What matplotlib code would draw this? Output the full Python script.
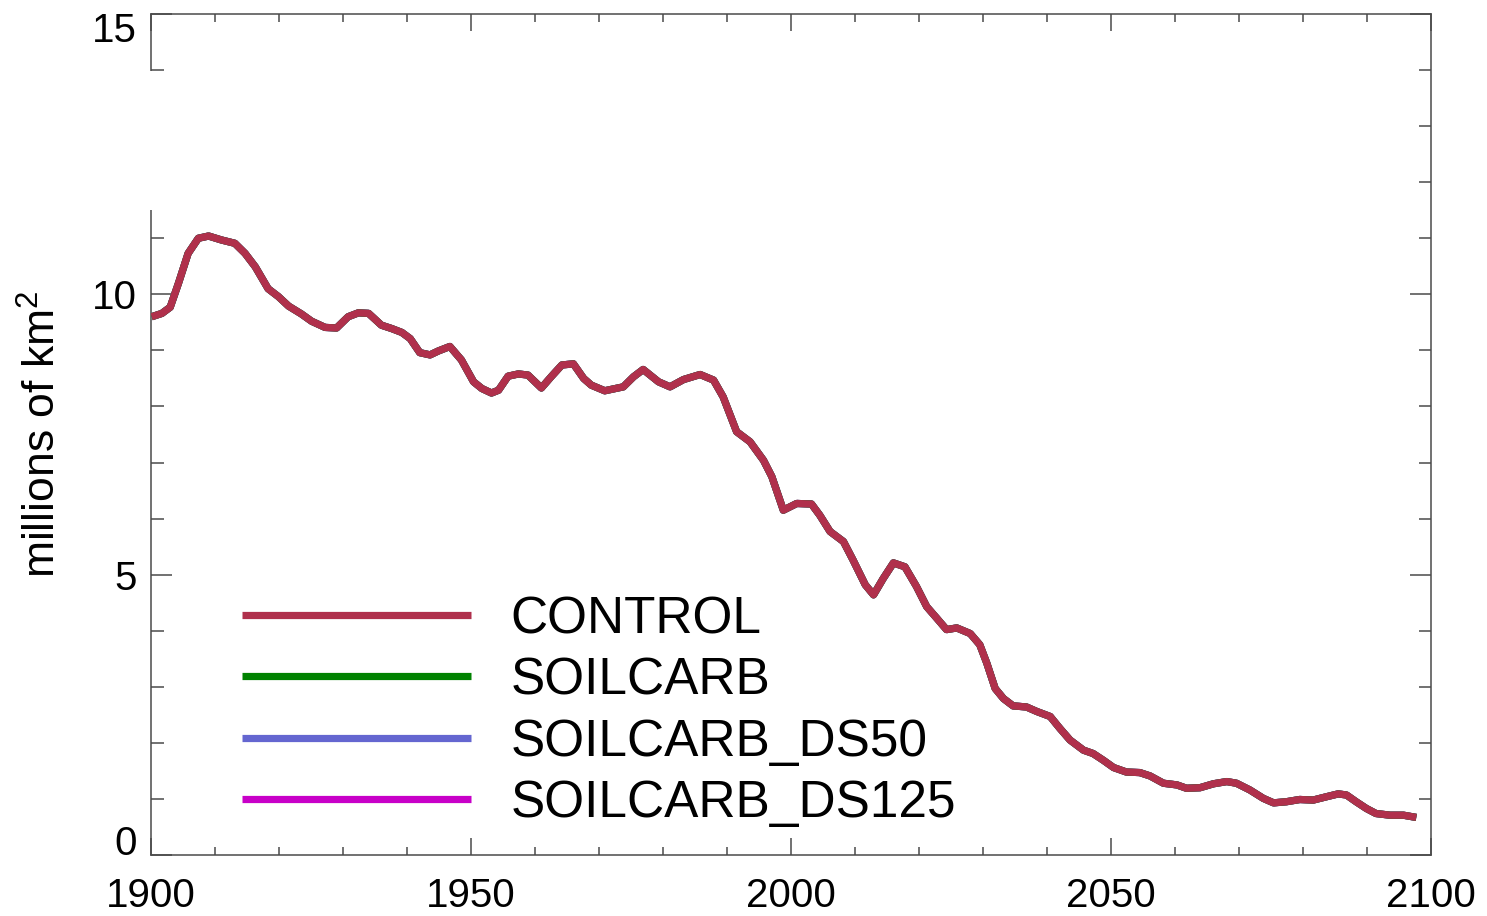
import matplotlib
matplotlib.use("Agg")
import matplotlib.pyplot as plt
import matplotlib.transforms as mtransforms
from matplotlib.patches import Rectangle
from matplotlib.ticker import MultipleLocator

plt.rcParams['font.family'] = ['Liberation Sans', 'DejaVu Sans']
plt.rcParams['mathtext.default'] = 'regular'

# values (millions of km^2)
years = [1900.1, 1901.7, 1903.0, 1904.3, 1905.8, 1907.4, 1909.0, 1911.0, 1913.1, 1914.7,
         1916.3, 1918.3, 1919.9, 1921.5, 1923.5, 1925.1, 1927.2, 1929.0, 1930.8, 1932.4,
         1934.0, 1936.0, 1937.6, 1939.2, 1940.5, 1942.0, 1943.6, 1944.9, 1946.7, 1948.5,
         1950.4, 1951.7, 1953.2, 1954.3, 1955.8, 1957.4, 1958.9, 1961.0, 1962.6, 1964.2,
         1966.0, 1967.6, 1968.8, 1970.9, 1973.8, 1975.4, 1976.9, 1979.3, 1981.1, 1983.2,
         1985.8, 1987.9, 1989.4, 1991.5, 1993.6, 1995.7, 1997.0, 1998.8, 2000.9, 2003.2,
         2004.5, 2006.1, 2008.2, 2009.7, 2011.6, 2012.9, 2014.4, 2016.0, 2017.8, 2019.6,
         2021.2, 2022.8, 2024.3, 2025.9, 2028.0, 2029.5, 2030.6, 2031.9, 2033.2, 2034.7,
         2036.8, 2038.4, 2040.5, 2042.0, 2043.6, 2045.7, 2047.2, 2048.8, 2050.4, 2052.4,
         2054.5, 2056.1, 2058.2, 2060.3, 2061.8, 2063.9, 2066.0, 2068.1, 2069.6, 2071.7,
         2073.8, 2075.4, 2077.4, 2079.5, 2081.6, 2083.7, 2085.5, 2086.8, 2088.3, 2089.9,
         2091.4, 2093.6, 2095.7, 2097.7]
control = [9.60, 9.66, 9.77, 10.20, 10.73, 11.00, 11.04, 10.97, 10.91, 10.73,
           10.49, 10.10, 9.96, 9.79, 9.65, 9.52, 9.41, 9.40, 9.60, 9.67,
           9.66, 9.45, 9.39, 9.32, 9.21, 8.96, 8.92, 8.99, 9.07, 8.83,
           8.44, 8.32, 8.24, 8.29, 8.54, 8.58, 8.56, 8.33, 8.54, 8.74,
           8.76, 8.50, 8.38, 8.28, 8.35, 8.53, 8.66, 8.44, 8.35, 8.48,
           8.57, 8.47, 8.17, 7.55, 7.37, 7.04, 6.75, 6.15, 6.27, 6.26,
           6.06, 5.77, 5.59, 5.26, 4.82, 4.64, 4.93, 5.21, 5.14, 4.79,
           4.43, 4.22, 4.02, 4.05, 3.95, 3.75, 3.42, 2.97, 2.79, 2.66,
           2.64, 2.56, 2.47, 2.26, 2.05, 1.87, 1.81, 1.69, 1.56, 1.48,
           1.47, 1.41, 1.28, 1.25, 1.19, 1.20, 1.27, 1.31, 1.28, 1.16,
           1.01, 0.93, 0.95, 0.99, 0.98, 1.04, 1.09, 1.07, 0.95, 0.83,
           0.74, 0.71, 0.71, 0.67]
# the other runs lie exactly under CONTROL in the picture
soilcarb = control
soilcarb_ds50 = control
soilcarb_ds125 = control

labels = ['CONTROL', 'SOILCARB', 'SOILCARB_DS50', 'SOILCARB_DS125']
colors = ['#B0304C', '#008200', '#6466D0', '#C800C8']

fig = plt.figure(figsize=(14.87, 9.16), dpi=100)
ax = fig.add_axes([151 / 1487, 1 - 855 / 916, 1280 / 1487, 841 / 916])

series = [control, soilcarb, soilcarb_ds50, soilcarb_ds125]
handles = []
for vals, lab, col, z in zip(series, labels, colors, [5, 4, 3, 2]):
    h, = ax.plot(years, vals, color=col, lw=5.2, label=lab, zorder=z,
                 solid_capstyle='butt', solid_joinstyle='round')
    handles.append(h)

ax.set_xlim(1900, 2100)
ax.set_ylim(0, 15)
ax.xaxis.set_major_locator(MultipleLocator(50))
ax.xaxis.set_minor_locator(MultipleLocator(10))
ax.yaxis.set_major_locator(MultipleLocator(5))
ax.yaxis.set_minor_locator(MultipleLocator(1))

for s in ax.spines.values():
    s.set_color('#4a4a4a')
    s.set_linewidth(1.1)

ax.tick_params(axis='both', which='both', direction='in', top=True, right=True,
               color='#4a4a4a', width=1.1, labelsize=29)
ax.tick_params(axis='x', which='major', length=12, pad=16)
ax.tick_params(axis='x', which='minor', length=6)
ax.tick_params(axis='y', which='major', length=15, pad=10)
ax.tick_params(axis='y', which='minor', length=9)

ax.set_ylabel('millions of km$^2$', fontsize=32, labelpad=20)

# gap in the left axis line
trans = mtransforms.blended_transform_factory(ax.transAxes, ax.transData)
ax.add_patch(Rectangle((-0.006, 11.5), 0.02, 2.48, transform=trans,
                       facecolor='white', edgecolor='none', clip_on=False, zorder=10))

ax.legend(handles=handles, loc='upper left', bbox_to_anchor=(91 / 1280, 1 - 581 / 841),
          frameon=False, fontsize=37, handlelength=4.45, handletextpad=0.78,
          labelspacing=0.24, borderpad=0, borderaxespad=0)

# end labels sit inside the axis range
fig.canvas.draw()
for t in ax.get_yticklabels():
    if t.get_text() == '0':
        t.set_verticalalignment('baseline')
    elif t.get_text() == '15':
        t.set_verticalalignment('top')
        t.set_transform(t.get_transform() +
                        mtransforms.ScaledTranslation(0, 2 / 100, fig.dpi_scale_trans))

fig.savefig('out.png', dpi=100)
